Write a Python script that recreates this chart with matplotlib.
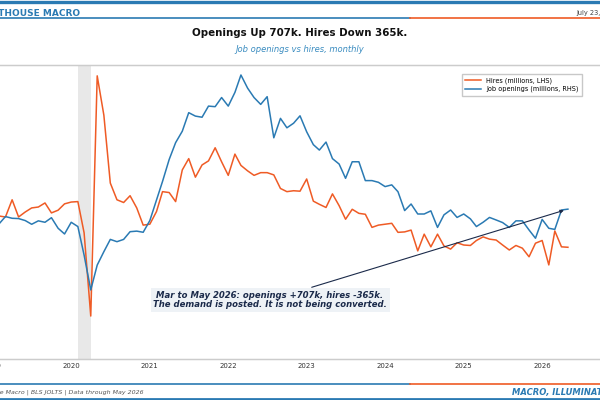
import numpy as np
import pandas as pd
import matplotlib
matplotlib.use("Agg")
import matplotlib.pyplot as plt
import matplotlib.dates as mdates
from matplotlib.lines import Line2D

ORANGE = "#ef5b25"
BLUE = "#2a7ab3"
NAVY = "#1b2a4a"

dates = pd.date_range("2019-01-01", "2026-05-01", freq="MS")

# hires, millions (LHS)
hires = [
    5.70, 5.66, 5.64, 6.02, 5.64, 5.75, 5.84, 5.86, 5.95, 5.73, 5.79, 5.93,  # 2019
    5.97, 5.98, 5.29, 3.45, 8.76, 7.89, 6.39, 6.02, 5.96, 6.11, 5.84, 5.46,  # 2020
    5.48, 5.76, 6.20, 6.18, 5.98, 6.68, 6.93, 6.52, 6.79, 6.88, 7.17, 6.86,  # 2021
    6.56, 7.03, 6.78, 6.66, 6.56, 6.62, 6.62, 6.57, 6.27, 6.20, 6.22, 6.21,  # 2022
    6.48, 5.99, 5.92, 5.85, 6.15, 5.89, 5.59, 5.81, 5.72, 5.70, 5.41, 5.46,  # 2023
    5.48, 5.50, 5.30, 5.31, 5.35, 4.89, 5.26, 4.98, 5.26, 5.00, 4.93, 5.07,  # 2024
    5.02, 5.01, 5.12, 5.20, 5.15, 5.13, 5.02, 4.91, 5.01, 4.95, 4.76, 5.06,  # 2025
    5.12, 4.58, 5.33, 4.98, 4.97,                                            # 2026
]

# job openings, millions (RHS)
openings = [
    7.00, 6.75, 6.99, 6.93, 6.92, 6.85, 6.72, 6.84, 6.79, 6.95, 6.58, 6.38,
    6.79, 6.64, 5.64, 4.42, 5.29, 5.76, 6.19, 6.11, 6.19, 6.46, 6.48, 6.44,
    6.85, 7.57, 8.22, 8.99, 9.58, 9.98, 10.63, 10.51, 10.47, 10.86, 10.84, 11.16,
    10.86, 11.34, 11.95, 11.49, 11.16, 10.92, 11.19, 9.75, 10.43, 10.10, 10.26, 10.52,
    9.96, 9.51, 9.32, 9.60, 9.02, 8.83, 8.33, 8.91, 8.91, 8.25, 8.25, 8.19,
    8.04, 8.10, 7.86, 7.20, 7.43, 7.08, 7.08, 7.19, 6.61, 7.05, 7.22, 6.96,
    7.08, 6.91, 6.64, 6.79, 6.96, 6.87, 6.78, 6.61, 6.84, 6.84, 6.52, 6.23,
    6.89, 6.58, 6.54, 7.22, 7.25,
]

fig = plt.figure(figsize=(6, 4), dpi=100)

# axes run past the figure edges (the reference is a crop of a wider chart)
ax = fig.add_axes([-36 / 600, 41 / 400, 660 / 600, 294 / 400])
ax2 = ax.twinx()

ax.axvspan(pd.Timestamp("2020-02-01"), pd.Timestamp("2020-04-01"),
           color="#e6e6e6", alpha=0.9, lw=0, zorder=0)
ax.plot(dates, hires, color=ORANGE, lw=1.1)
ax2.plot(dates, openings, color=BLUE, lw=1.1)

ax.set_ylim(2.5, 9.0)
ax2.set_ylim(2.0, 12.3)
ax.set_xlim(pd.Timestamp("2018-08-20"), pd.Timestamp("2027-01-17"))

ax.xaxis.set_major_locator(mdates.YearLocator())
ax.xaxis.set_major_formatter(mdates.DateFormatter("%Y"))
ax.tick_params(axis="x", length=0, labelsize=5, pad=3, colors="#333333")
for a in (ax, ax2):
    a.tick_params(axis="y", length=0, labelsize=5)
    for s in ("left", "right"):
        a.spines[s].set_visible(False)
    for s in ("top", "bottom"):
        a.spines[s].set_color("#cccccc")
        a.spines[s].set_linewidth(0.9)

handles = [Line2D([], [], color=ORANGE, lw=1.1), Line2D([], [], color=BLUE, lw=1.1)]
fig.legend(handles, ["Hires (millions, LHS)", "Job openings (millions, RHS)"],
           loc="upper right", bbox_to_anchor=(585 / 600, 1 - 71 / 400),
           fontsize=4.7, frameon=True, fancybox=False, edgecolor="#bbbbbb",
           handlelength=2.4, borderpad=0.5, labelspacing=0.3)

# annotation
ax2.annotate("Mar to May 2026: openings +707k, hires -365k.\n"
             "The demand is posted. It is not being converted.",
             xy=(dates[-1], openings[-1]), xycoords="data",
             xytext=(270 / 600, 1 - 300 / 400), textcoords="figure fraction",
             ha="center", va="center", fontsize=6.15, fontweight="bold",
             fontstyle="italic", color=NAVY, linespacing=1.1,
             bbox=dict(boxstyle="square,pad=0.3", fc="#eef2f6", ec="none"),
             arrowprops=dict(arrowstyle="-|>", color=NAVY, lw=0.8,
                             mutation_scale=5, shrinkB=3))

# titles
fig.text(0.5, 1 - 33 / 400, "Openings Up 707k. Hires Down 365k.",
         ha="center", va="center", fontsize=7.4, fontweight="bold", color="#111111")
fig.text(0.5, 1 - 50 / 400, "Job openings vs hires, monthly",
         ha="center", va="center", fontsize=6.0, fontstyle="italic", color="#3a8cc0")

# header / footer bands
def band(y, lw, split=True):
    if split:
        fig.add_artist(Line2D([0, 410 / 600], [y, y], color=BLUE, lw=lw))
        fig.add_artist(Line2D([410 / 600, 1], [y, y], color=ORANGE, lw=lw))
    else:
        fig.add_artist(Line2D([0, 1], [y, y], color=BLUE, lw=lw))

band(1 - 1.5 / 400, 2.4, split=False)
band(1 - 17.5 / 400, 1.2)
band(1 - 384 / 400, 1.2)
band(1 - 399 / 400, 2.0, split=False)

fig.text(80 / 600, 1 - 13 / 400, "LIGHTHOUSE MACRO", ha="right", va="center",
         fontsize=6.5, fontweight="bold", color=BLUE)
fig.text(576 / 600, 1 - 13 / 400, "July 23, 2026", ha="left", va="center",
         fontsize=4.8, color="#444444")
fig.text(144 / 600, 1 - 392 / 400,
         "Source: Lighthouse Macro | BLS JOLTS | Data through May 2026",
         ha="right", va="center", fontsize=4.5, fontstyle="italic", color="#555555")
fig.text(512 / 600, 1 - 392 / 400, "MACRO, ILLUMINATED.", ha="left", va="center",
         fontsize=6, fontweight="bold", fontstyle="italic", color=BLUE)

fig.savefig("out.png", dpi=100)
